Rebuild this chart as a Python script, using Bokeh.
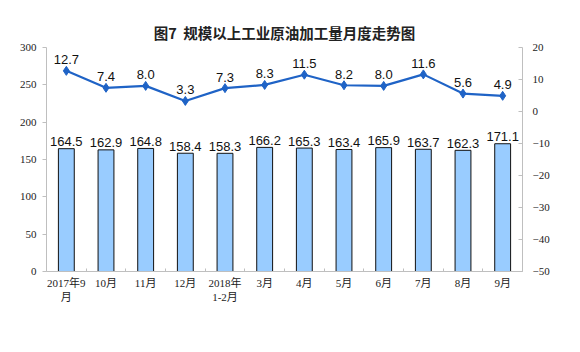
from bokeh.plotting import figure
from bokeh.models import (Range1d, LinearAxis, FixedTicker, Legend, LegendItem,
                          ColumnDataSource)
from bokeh.core.properties import value
from bokeh.embed import file_html
from bokeh.resources import INLINE

categories = ["2017年9\n月", "10月", "11月", "12月", "2018年\n1-2月", "3月", "4月",
              "5月", "6月", "7月", "8月", "9月"]
daily_output = [164.5, 162.9, 164.8, 158.4, 158.3, 166.2, 165.3, 163.4, 165.9, 163.7, 162.3, 171.1]
growth = [12.7, 7.4, 8.0, 3.3, 7.3, 8.3, 11.5, 8.2, 8.0, 11.6, 5.6, 4.9]
left_ticks = [0, 50, 100, 150, 200, 250, 300]
right_ticks = [-50, -40, -30, -20, -10, 0, 10, 20]

n = len(categories)
xs = [i + 0.5 for i in range(n)]
src = ColumnDataSource(dict(
    x=xs, bar=daily_output, g=growth,
    bar_lbl=[f"{v:.1f}" for v in daily_output],
    g_lbl=[f"{v:.1f}" for v in growth],
))

AX = "#bfbfbf"
p = figure(frame_width=476, frame_height=224, output_backend="svg", toolbar_location=None,
           x_range=Range1d(0, n), y_range=Range1d(0, 300),
           min_border_left=46, min_border_right=58, min_border_top=47, min_border_bottom=81)
p.outline_line_color = None
p.xgrid.grid_line_color = None
p.ygrid.grid_line_color = None

p.title.text = "图7\u00a0\u00a0规模以上工业原油加工量月度走势图"
p.title.align = "center"
p.title.text_font = "Noto Sans CJK SC"
p.title.text_font_size = "14.5px"
p.title.text_font_style = "bold"
p.title.text_color = "#222222"

p.extra_y_ranges = {"r": Range1d(-50, 20)}

# left axis
ya = p.yaxis[0]
ya.ticker = FixedTicker(ticks=left_ticks)
ya.axis_line_color = AX
ya.major_tick_line_color = AX
ya.major_tick_out = 4
ya.major_tick_in = 0
ya.minor_tick_line_color = None
ya.major_label_text_font = "Liberation Serif"
ya.major_label_text_font_size = "11px"
ya.major_label_text_color = "#222222"
ya.major_label_standoff = 6

ra = LinearAxis(y_range_name="r", ticker=FixedTicker(ticks=right_ticks))
ra.axis_line_color = AX
ra.major_tick_line_color = AX
ra.major_tick_out = 0
ra.major_tick_in = 4
ra.minor_tick_line_color = None
ra.major_label_text_font = "Liberation Serif"
ra.major_label_text_font_size = "11px"
ra.major_label_text_color = "#222222"
ra.major_label_standoff = 10
p.add_layout(ra, "right")

xa = p.xaxis[0]
xa.ticker = FixedTicker(ticks=xs, minor_ticks=list(range(n + 1)))
xa.major_label_overrides = {x: c for x, c in zip(xs, categories)}
xa.axis_line_color = AX
xa.major_tick_line_color = None
xa.minor_tick_line_color = AX
xa.minor_tick_in = 3
xa.minor_tick_out = 0
xa.major_label_text_font = "Liberation Serif, Noto Sans CJK SC"
xa.major_label_text_font_size = "11px"
xa.major_label_text_color = "#222222"
xa.major_label_standoff = -1

bars = p.vbar(x="x", top="bar", width=0.4, source=src, fill_color="#99ccff",
              line_color="#111111", line_width=1)
line = p.line(x="x", y="g", source=src, y_range_name="r", line_color="#1f63c6", line_width=2.2)
pts = p.scatter(x="x", y="g", source=src, y_range_name="r", marker="diamond", size=9,
                fill_color="#1f63c6", line_color="#1f63c6")

p.text(x="x", y="bar", text="bar_lbl", source=src, text_align="center",
       text_baseline="alphabetic", y_offset=-7, text_font=value("Liberation Sans"),
       text_font_size="13px", text_color="#111111")
p.text(x="x", y="g", text="g_lbl", source=src, y_range_name="r", text_align="center",
       text_baseline="alphabetic", y_offset=-11, text_font=value("Liberation Sans"),
       text_font_size="13px", text_color="#111111")

legend = Legend(items=[LegendItem(label="日均加工量（万吨）", renderers=[bars]),
                       LegendItem(label="当月增速（%）", renderers=[line, pts])],
                orientation="horizontal", location=(72, -66), spacing=60,
                glyph_width=25, glyph_height=8, label_standoff=3,
                label_text_font="Noto Sans CJK SC", label_text_font_size="12px",
                border_line_color=None, background_fill_alpha=0, margin=0, padding=4)
p.add_layout(legend, "center")

open("out.html", "w").write(file_html(p, INLINE))
